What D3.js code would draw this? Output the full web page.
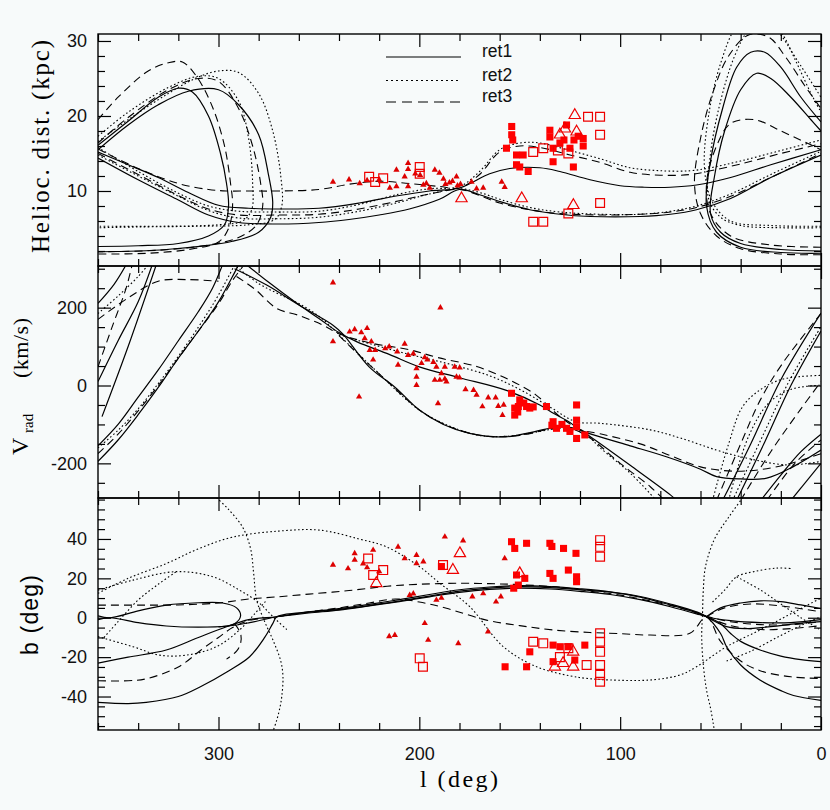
<!DOCTYPE html>
<html>
<head>
<meta charset="utf-8">
<script src="https://cdn.jsdelivr.net/npm/d3@7"></script>
<style>
  body { margin: 0; background: #f7fafa; }
  svg { display: block; }
  .tick text { font-family: "Liberation Sans", Arial, sans-serif; font-size: 18px; fill: #111; }
  .tick line { stroke: #000; stroke-width: 1.2; }
</style>
</head>
<body>
<div id="chart"></div>
<script>
// ---- axis values ----
const lMinor = d3.range(0, 361, 20);
const lMajor = [300, 200, 100, 0];

const distMinor = d3.range(2, 31, 2);
const distMajor = [10, 20, 30];
const vradMinor = d3.range(-250, 301, 50);
const vradMajor = [-200, 0, 200];
const bMinor = d3.range(-55, 61, 5);
const bMajor = [-40, -20, 0, 20, 40];

const models = ['ret1', 'ret2', 'ret3'];

// ---- orbit tracks, heliocentric distance (l, kpc) ----
const distRet1 = [
  [[360,16.1],[345,19.3],[330,22.5],[320,23.7],[313,23.2],[305,20],[299,15],[296,11],[295,8],[297,5.5],[305,4],[320,3],[340,2.7],[360,2.6]],
  [[360,15.5],[345,18.8],[330,21.5],[315,23.3],[300,23.5],[290,21.5],[280,17.5],[275,12],[273,8.5],[274,6.5],[280,4.5],[293,3.3],[326,2.2],[360,1.9]],
  [[360,15.2],[345,13.5],[330,11.8],[315,9.8],[300,8.1],[285,7.7],[270,7.6],[250,7.7],[230,8.4],[210,9.4],[195,10],[180,10.4],[165,12.3],[155,13],[140,13.1],[130,12.6],[115,11.5],[100,10.7],[88,10.5],[75,10.5],[62,10.8],[45,11.8],[25,13.5],[0,15.5]],
  [[360,14.4],[340,11.5],[320,8.8],[305,6.8],[290,5.8],[270,5.6],[250,5.8],[235,6.2],[220,6.8],[205,7.6],[190,8.9],[180,10.2],[170,9.5],[160,8.6],[145,7.5],[130,6.9],[115,6.6],[90,6.6],[75,6.9],[62,7.5],[45,9],[25,11.8],[0,14.8]],
  [[0,2.0],[20,2.2],[40,3.0],[50,4.5],[55,7],[53,12],[48,18],[40,23.5],[32,25.7],[25,25],[15,22.5],[5,19.5],[0,18]],
  [[0,1.7],[20,1.8],[40,2.5],[52,4.5],[57,8],[55,14],[49,21],[42,26.5],[35,28.5],[28,28.5],[20,26.5],[10,22.5],[0,19.2]]
];
const distRet2 = [
  [[360,16.6],[345,19.5],[325,23],[310,25.2],[300,26],[290,25.8],[280,23],[273,18],[269,12],[268.5,8],[272,6.2],[285,5.5],[310,5.3],[340,5.2],[360,5.1]],
  [[360,17.3],[345,20.5],[325,23.8],[310,25.3],[300,25],[290,22],[285,17],[283,11],[283.5,7.5],[288,6],[300,5.5],[330,5.3],[360,5.3]],
  [[360,15.8],[340,12.6],[320,9.7],[305,8],[290,7.3],[270,7.2],[250,7.3],[230,8.2],[210,9.6],[195,10.3],[180,10.6],[170,12.6],[160,15.5],[150,16.4],[140,16.4],[125,15.4],[110,14.3],[95,13.1],[80,12.7],[65,12.7],[55,13.1],[40,14],[20,15.4],[0,16.8]],
  [[360,14.8],[340,12],[320,9.3],[305,7.4],[290,6.4],[270,6.3],[250,6.5],[230,7.3],[210,8.5],[195,9.6],[180,10.3],[170,9.8],[160,8.9],[145,7.8],[130,7.2],[110,6.9],[90,6.9],[75,7.3],[62,8],[45,9.6],[25,12.2],[0,15.3]],
  [[0,5.1],[20,5.1],[40,5.4],[50,6.5],[56,9],[55,15],[50,22],[43,28],[36,31.5],[28,33],[20,31.2],[12,27],[5,23],[0,20.5]],
  [[0,5.3],[25,5.4],[45,6],[54,8.5],[58,13],[56,20],[50,27],[42,32],[32,34],[22,31.5],[12,27.5],[0,22.5]]
];
const distRet3 = [
  [[360,19.5],[350,22.5],[335,26],[325,27.1],[318,27.2],[311,25.3],[303,21.2],[297,16],[294,11],[293,8],[295,5],[300,3.2],[315,2.2],[335,1.7],[360,1.6]],
  [[360,16.4],[345,19.8],[325,23.5],[310,25],[300,24.6],[290,21],[283,16],[279,11],[278,8],[281,5.5],[290,3.8],[305,2.8],[330,2.1],[360,1.9]],
  [[360,15.6],[340,13],[320,11],[305,10.2],[296,10],[285,10],[270,10],[250,10.2],[235,10.9],[220,11.3],[205,11],[190,10.6],[180,10.4],[170,12.2],[160,15.2],[150,16],[140,15.8],[125,14.8],[110,13.8],[95,12.5],[80,12.1],[65,12.2],[55,12.7],[40,13.6],[20,15],[0,16.3]],
  [[360,15.0],[340,12.2],[320,9.4],[305,7.6],[290,6.8],[270,6.8],[250,6.9],[230,7.6],[210,8.7],[195,9.6],[180,10.2],[170,9.4],[160,8.4],[145,7.5],[130,7.0],[110,6.8],[90,6.9],[75,7.2],[62,7.8],[45,9.3],[25,11.8],[0,15.0]],
  [[0,1.5],[20,1.6],[40,2.3],[52,4],[60,7],[63,11],[60,17],[54,23],[46,28],[36,30.8],[26,30.5],[18,28],[8,24],[0,21]],
  [[0,2.5],[25,2.8],[45,4],[55,7],[57,11],[52,16],[45,19],[33,19.5],[20,18],[7,16.4],[0,15.5]]
];

// ---- orbit tracks, radial velocity (l, km/s) ----
const vradRet1 = [
  [[360,-195],[350,-140],[340,-75],[330,-5],[320,70],[310,140],[300,215],[292,290],[290,310]],
  [[360,-155],[350,-100],[340,-30],[330,40],[320,115],[310,190],[303,250],[298,310]],
  [[358,-80],[345,100],[331,310]],
  [[360,10],[350,115],[340,215],[333,310]],
  [[360,211],[352,260],[346,310]],
  [[286,310],[275,265],[262,215],[250,172],[240,136],[231,112],[215,80],[200,48],[180,20],[157,-12],[140,-50],[133,-72],[125,-95],[120,-114],[110,-132],[95,-155],[77,-183],[60,-215],[52,-234],[40,-240],[27,-238],[14,-209],[0,-166]],
  [[292,300],[276,258],[260,207],[243,155],[238,132],[225,48],[212,-5],[200,-63],[188,-100],[175,-123],[157,-132],[143,-119],[130,-106],[120,-114],[115,-131],[95,-205],[75,-281],[72,-295]],
  [[49,-295],[35,-150],[20,15],[0,186]],
  [[42,-295],[28,-145],[15,0],[0,140]],
  [[30,-295],[20,-230],[10,-170],[0,-125]],
  [[15,-295],[0,-200]]
];
const vradRet2 = [
  [[360,-160],[350,-115],[340,-60],[330,5],[320,75],[310,150],[302,215],[296,270],[292,310]],
  [[360,185],[350,230],[340,280],[335,310]],
  [[291,305],[280,262],[270,235],[258,205],[248,170],[240,133],[225,108],[205,80],[185,55],[165,25],[150,-10],[135,-55],[122,-93],[110,-97],[85,-114],[70,-135],[52,-166],[40,-183],[17,-204],[0,-195]],
  [[240,130],[222,40],[198,-70],[172,-126],[155,-130],[140,-118],[130,-110],[118,-122],[110,-160],[95,-225],[82,-295]],
  [[54,-295],[46,-150],[39,-54],[30,-10],[20,15],[10,23],[0,26]],
  [[46,-295],[36,-130],[26,-45],[15,-10],[0,1]],
  [[44,-295],[30,-140],[16,10],[0,151]]
];
const vradRet3 = [
  [[360,-175],[350,-125],[340,-65],[330,0],[320,70],[310,140],[300,210],[293,270],[288,305]],
  [[360,48],[353,150],[346,250],[343,310]],
  [[360,170],[345,225],[330,268],[315,272],[300,268]],
  [[291,280],[282,248],[271,198],[260,180],[248,155],[240,133],[225,110],[205,92],[191,72],[171,48],[155,14],[142,-24],[130,-80],[120,-113],[110,-124],[90,-150],[75,-180],[60,-209],[44,-220],[30,-216],[15,-200],[0,-175]],
  [[240,128],[220,30],[195,-80],[170,-128],[150,-128],[135,-112],[125,-110],[115,-135],[100,-200],[85,-260],[78,-295]],
  [[52,-295],[40,-150],[30,-35],[19,58],[0,185]],
  [[27,-295],[13,-200],[0,-140]],
  [[40,-295],[25,-170],[10,-60],[0,10]]
];

// ---- orbit tracks, galactic latitude (l, deg) ----
const bRet1 = [
  [[360,-1],[354,0],[340,-2.5],[326,-4.2],[310,-4.8],[295,-4.2],[284.5,-2.5],[271,0.5],[255,2.8],[243,3.9],[225,6.2],[210,8.5],[195,11],[180,13.5],[165,15],[150,15.8],[135,15.3],[120,14.2],[105,13],[90,10.5],[75,6.5],[62,2.5],[57,0.5],[45,-1.5],[30,-2.5],[15,-2.5],[0,-1]],
  [[360,1],[354,0],[340,3.5],[326,6.4],[310,7.6],[298,7.5],[291,5],[289,1],[292,-3],[300,-4.6]],
  [[360,-43],[345,-43.6],[336,-43],[320,-40],[309,-35],[295,-27],[284.5,-19.8],[277,-10],[273,-3],[271,0.5],[260,2.5],[243,4.2],[225,6.8],[210,9.2],[195,11.8],[180,14.2],[165,15.6],[150,16.3],[135,15.8],[120,14.7],[105,13.2],[90,10.8],[75,7],[62,3],[57,0.5],[50,-8],[47,-14.7],[40,-24],[30.4,-31.6],[20,-37],[13.7,-39.5],[0,-42]],
  [[360,-23],[345,-20],[326,-16.4],[310,-10],[296,-4.6],[285,-1],[271,0.5],[255,2.4],[240,3.9],[225,6],[210,8.2],[195,10.6],[180,12.9],[165,14.4],[150,15],[135,14.6],[120,13.4],[105,11.8],[90,9.2],[75,5.6],[62,2],[57,0.5],[50,-3],[45,-8],[40,-12],[30,-16.5],[20,-19.5],[10,-21.3],[0,-22.3]],
  [[57,0.5],[50,5],[40,7.5],[30,8.6],[20,8.2],[10,6.5],[0,4.7]],
  [[57,0.5],[47,-4.5],[38,-5.5],[25,-4.5],[12,-3],[0,-2]]
];
const bRet2 = [
  [[360,12.4],[345,20],[326,27.5],[310,35],[292.7,41],[270,44],[249.6,44.5],[230,40],[216.4,36],[200,26],[189.8,17.5],[174.9,5.6],[158.2,-14.7],[141.6,-24.9],[125,-29.5],[116.7,-30.8],[105,-31.6],[85,-31.6],[70,-29],[62,-24.9],[47,-14.7],[30.4,-6.2],[15,2],[0,10]],
  [[301,61],[295,55],[288,46],[284,35],[282.5,22.5],[281,9],[277,-2],[272.9,-11.3],[269,-22],[267.9,-30],[268.5,-40],[269.5,-46],[271,-52],[273,-58]],
  [[39,61],[46,51],[53,40],[57.5,26],[58.6,14],[59,2],[59.4,-10],[58.5,-25],[57,-36.7],[55,-46],[53.6,-54],[53,-58]],
  [[360,14],[342.6,19.1],[321,23.4],[302.8,20.8],[289.5,14],[279.5,7.3],[272.9,0.5],[266,-6]],
  [[360,-9.6],[342.6,-14.7],[329.3,-19],[316,-19],[301,-14.7],[289.5,-6.2],[282,2],[276,9]],
  [[357,-10],[350,-2],[340,9],[330,17],[321,23.4]],
  [[54,8],[48,14],[42,20.8],[33,23.5],[22,25.2],[15,25]],
  [[42,20.8],[30,14],[20,7],[10,0],[0,-6.4]],
  [[47,-22],[35,-17],[20,-9],[8,-3],[0,0.5]]
];
const bRet3 = [
  [[360,6.4],[340,6.4],[320,6.5],[300,7.5],[285,9.5],[272,10.5],[255,12],[235,13.8],[216,16],[200,17],[180,17.5],[165,17.3],[150,16.8],[130,15.5],[115,13.5],[100,11.5],[85,8.5],[70,5],[60,2],[56,0.5],[45,-2],[30,-3.5],[15,-3.5],[0,-2]],
  [[360,-32],[345,-32],[336,-31],[320,-25],[309,-16.6],[300,-10],[293,-5],[285,-1.5],[271,0.5],[255,3],[240,5],[225,7.5],[212,9.5],[200,8],[186.5,4.8],[166.6,-1.2],[150,-4],[133.4,-6.2],[115,-7.5],[101.7,-8],[85,-8.8],[65.3,-7.9],[57,0.5],[50,-12],[40,-22],[30,-27],[15,-30],[0,-30.8]],
  [[292,-3],[289,-8],[289,-13],[291,-17],[296,-21]],
  [[57,0.5],[45,-4],[30,-6],[15,-5.5],[0,-4]],
  [[57,0.5],[48,5],[35,7],[20,6],[0,3]]
];

// ---- observed stars ----
const distFilledTri = [[243,11.2],[235,11.5],[229.7,11.0],[211.4,12.8],[205.6,13.7],[205.6,12.9],[207.3,11.9],[211.4,10.6],[205.6,10.6],[214.7,10.4],[196.5,11.0],[192.3,12.8],[190,12.4],[194.8,10.4],[187,10.9],[185,11.1],[183.5,11.3],[181.5,11.9],[181,10.7],[179.5,10.9],[174,11.2],[171.5,10.3],[168.2,10.4],[159,11.2],[157.5,10.5],[199.6,12.1],[220,11.5],[226,11.4],[202,12.3],[188,11.6],[198,10.8]];
const distFilledSq = [[154,18.6],[154,17.5],[153.5,16.8],[156.6,15.7],[151.6,14.8],[151.6,13.5],[148.3,14.8],[145.8,12.6],[135,18.1],[135,17.2],[133.4,15.7],[133.4,13.9],[126.7,18.8],[130,16.4],[118.4,17.0],[118.4,16],[123.3,13.2],[125,15.7],[120.9,17.3],[150,13.2],[128,16.8],[123,16.8]];
const distOpenSq = [[225,11.9],[222,11.2],[218,11.7],[199.8,13.2],[199.8,12.3],[143.3,15.2],[138.3,15.7],[143.3,5.9],[138.3,5.9],[125.8,7.0],[110,8.4],[116,19.9],[110,19.9],[110,17.5],[125.8,15.0],[131,15.4]];
const distOpenTri = [[179,9.0],[149,9.0],[123.3,8.1],[122.6,20.1],[130,17.5],[127.5,18.3],[121.7,17.9]];

const vradFilledTri = [[243,264],[189.5,200],[243,113],[230,-29],[190.7,-46],[234.7,138],[232.2,144],[228.9,136],[226,147],[227.2,121],[223.9,113],[224.7,91],[222,91],[223,66],[207.3,107],[211,87],[205.6,78],[203,82],[210.6,53],[197.3,72],[198.9,57],[201.4,44],[201.4,22],[201.4,1],[191.5,48],[187.3,48],[182.4,48],[179.9,46],[192.3,14],[189.8,14],[187.3,17],[186.5,10],[189,31],[181.5,22],[180,20],[177,-10],[173,-12],[171.5,-24],[165.7,-31],[162,-31],[168.6,-54],[160.7,-53],[158,-50],[158.6,-76],[215,100],[217,95],[196,66],[193,60]];
const vradFilledSq = [[154.1,-20],[150,-37],[150.7,-54],[146.6,-54],[145,-58],[152.5,-76],[152.5,-58],[143.3,-55],[148,-45],[151,-68],[136.7,-54],[121.7,-50],[133.4,-93],[131.7,-110],[126.7,-110],[121.7,-106],[121.7,-136],[117.6,-127],[121.7,-89],[129,-100],[125,-118],[134,-102]];

const bFilledTri = [[243,26.8],[235.5,25],[232.2,32.7],[232.2,29.4],[228,27.5],[223,34.4],[210.6,36],[207.3,30.1],[201.4,31.8],[201.4,27.6],[198,28.5],[187.3,41.1],[178.2,39.1],[157.5,30.1],[204.8,11.5],[203,12.2],[191.5,9],[189,10],[173.6,10.7],[168.2,12.3],[161.8,8.1],[159.4,10.7],[197.3,-2.8],[212.2,-8.8],[215,-9.5],[195.6,-11.3],[180.6,-13],[165.8,-7.1],[226,25.5],[220,23.5]];
const bFilledSq = [[154.1,38.6],[152.5,35.2],[146.6,37.8],[135,37.8],[134,36.2],[128.2,35.2],[122,32.7],[151.6,21.7],[147.5,20],[150.7,16.6],[153,15],[135,22.5],[133.4,20],[125.8,24.2],[121.7,20.8],[121.7,18.3],[145,-17.3],[157.3,-24.9],[146.6,-24.9],[133.4,-13.9],[130,-14.7],[125.8,-14.7],[117.6,-13.9],[133.4,-22.3],[122.6,-21.5],[189,26]];
const bOpenSq = [[225.5,30.1],[218,24.2],[223,21.7],[188.2,26.8],[199.8,-20.6],[198.2,-24.9],[143.3,-12.2],[138.3,-13],[125.8,-15.5],[116.7,-24],[110,39.4],[110,36],[110,31],[110,-7.9],[110,-12.2],[110,-17.3],[110,-24],[110,-29],[110,-32.5],[130,-20]];
const bOpenTri = [[221.4,17.5],[179.8,32.7],[183.3,24.2],[132.5,-24.9],[128.4,-23.1],[123.4,-24.9],[123.4,-17.3],[150,22.5]];

// ---- layout ----
const W = 830, H = 810;
const plotLeft = 98, plotRight = 821;
const panelH = 232;

const dash = { ret1: null, ret2: '1.6,2.4', ret3: '8,5' };
const markStyle = {
  filledTri: { type: d3.symbolTriangle, size: 17, fill: '#dd0000', stroke: 'none' },
  filledSq:  { type: d3.symbolSquare,   size: 50, fill: '#ff0000', stroke: 'none' },
  openSq:    { type: d3.symbolSquare,   size: 78, fill: 'none',    stroke: '#ee0000' },
  openTri:   { type: d3.symbolTriangle, size: 55, fill: 'none',    stroke: '#ee0000' }
};

const panels = [
  { top: 34,  domain: [0, 30.93], minor: distMinor, major: distMajor,
    tracks: [distRet1, distRet2, distRet3],
    stars: [[distFilledTri, 'filledTri'], [distFilledSq, 'filledSq'], [distOpenSq, 'openSq'], [distOpenTri, 'openTri']] },
  { top: 266, domain: [-289, 307], minor: vradMinor, major: vradMajor,
    tracks: [vradRet1, vradRet2, vradRet3],
    stars: [[vradFilledTri, 'filledTri'], [vradFilledSq, 'filledSq']] },
  { top: 498, domain: [-57, 60.8], minor: bMinor, major: bMajor,
    tracks: [bRet1, bRet2, bRet3],
    stars: [[bFilledTri, 'filledTri'], [bFilledSq, 'filledSq'], [bOpenSq, 'openSq'], [bOpenTri, 'openTri']] }
];

const x = d3.scaleLinear().domain([360, 0]).range([plotLeft, plotRight]);

const svg = d3.select('#chart').append('svg')
  .attr('width', W).attr('height', H);
svg.append('rect').attr('width', W).attr('height', H).attr('fill', '#f7fafa');

const noDomain = g => g.select('.domain').remove();

panels.forEach((p, i) => {
  const bottom = p.top + panelH;
  const y = d3.scaleLinear().domain(p.domain).range([bottom, p.top]);

  svg.append('clipPath').attr('id', 'clip' + i)
    .append('rect')
    .attr('x', plotLeft).attr('y', p.top)
    .attr('width', plotRight - plotLeft).attr('height', panelH);

  const line = d3.line()
    .x(d => x(d[0])).y(d => y(d[1]))
    .curve(d3.curveCatmullRom.alpha(0.5));

  const gTracks = svg.append('g').attr('clip-path', `url(#clip${i})`);
  p.tracks.forEach((list, k) => {
    gTracks.selectAll(null)
      .data(list)
      .enter()
      .append('path')
      .attr('d', line)
      .attr('fill', 'none')
      .attr('stroke', '#000')
      .attr('stroke-width', models[k] === 'ret1' ? 1.2 : 1.1)
      .attr('stroke-dasharray', dash[models[k]]);
  });

  p.stars.forEach(([data, kind]) => {
    const s = markStyle[kind];
    svg.append('g').selectAll('path')
      .data(data)
      .enter()
      .append('path')
      .attr('d', d3.symbol().type(s.type).size(s.size))
      .attr('transform', d => 'translate(' + x(d[0]) + ',' + y(d[1]) + ')')
      .attr('fill', s.fill)
      .attr('stroke', s.stroke)
      .attr('stroke-width', 1.2);
  });

  // ticks on all four sides, pointing inward
  const xMinorVals = lMinor.filter(v => !lMajor.includes(v));
  svg.append('g').attr('transform', `translate(0,${bottom})`)
    .call(d3.axisBottom(x).tickValues(xMinorVals).tickSize(-7).tickFormat('')).call(noDomain);
  svg.append('g').attr('transform', `translate(0,${p.top})`)
    .call(d3.axisTop(x).tickValues(xMinorVals).tickSize(-7).tickFormat('')).call(noDomain);
  svg.append('g').attr('transform', `translate(0,${p.top})`)
    .call(d3.axisTop(x).tickValues(lMajor).tickSize(-13).tickFormat('')).call(noDomain);
  svg.append('g').attr('transform', `translate(0,${bottom})`)
    .call(d3.axisBottom(x).tickValues(lMajor).tickSize(-13).tickPadding(17)
      .tickFormat(i === 2 ? (d => String(d)) : ''))
    .call(noDomain);

  const yMinorVals = p.minor.filter(v => !p.major.includes(v));
  svg.append('g').attr('transform', `translate(${plotLeft},0)`)
    .call(d3.axisLeft(y).tickValues(yMinorVals).tickSize(-7).tickFormat('')).call(noDomain);
  svg.append('g').attr('transform', `translate(${plotLeft},0)`)
    .call(d3.axisLeft(y).tickValues(p.major).tickSize(-13).tickPadding(11).tickFormat(d => String(d)))
    .call(noDomain);
  svg.append('g').attr('transform', `translate(${plotRight},0)`)
    .call(d3.axisRight(y).tickValues(yMinorVals).tickSize(-7).tickFormat('')).call(noDomain);
  svg.append('g').attr('transform', `translate(${plotRight},0)`)
    .call(d3.axisRight(y).tickValues(p.major).tickSize(-13).tickFormat('')).call(noDomain);

  svg.append('rect')
    .attr('x', plotLeft).attr('y', p.top)
    .attr('width', plotRight - plotLeft).attr('height', panelH)
    .attr('fill', 'none').attr('stroke', '#000').attr('stroke-width', 1.4);
});

// ---- legend ----
const legendY = [57, 80.5, 102];
const legend = svg.append('g');
models.forEach((m, k) => {
  legend.append('line')
    .attr('x1', 386).attr('x2', 461)
    .attr('y1', legendY[k]).attr('y2', legendY[k])
    .attr('stroke', '#000').attr('stroke-width', 1.2)
    .attr('stroke-dasharray', m === 'ret2' ? '2,3' : m === 'ret3' ? '10,6' : null);
  legend.append('text')
    .attr('x', 482).attr('y', legendY[k])
    .attr('font-family', '"Liberation Sans", Arial, sans-serif')
    .attr('font-size', 17.5).attr('fill', '#111')
    .text(m);
});

// ---- axis titles ----
const serif = '"Liberation Serif", "Times New Roman", serif';
const sans = '"Liberation Sans", Arial, sans-serif';

svg.append('text')
  .attr('transform', 'translate(49,146.5) rotate(-90)')
  .attr('text-anchor', 'middle')
  .attr('font-family', serif).attr('font-size', 25)
  .attr('textLength', 213).attr('lengthAdjust', 'spacing')
  .text('Helioc. dist. (kpc)');

svg.append('text')
  .attr('transform', 'translate(28,455) rotate(-90)')
  .attr('font-family', serif).attr('font-size', 24)
  .text('V');
svg.append('text')
  .attr('transform', 'translate(33,433) rotate(-90)')
  .attr('font-family', serif).attr('font-size', 15)
  .text('rad');
svg.append('text')
  .attr('transform', 'translate(28,378) rotate(-90)')
  .attr('font-family', serif).attr('font-size', 22)
  .attr('textLength', 60).attr('lengthAdjust', 'spacing')
  .text('(km/s)');

svg.append('text')
  .attr('transform', 'translate(38,615) rotate(-90)')
  .attr('text-anchor', 'middle')
  .attr('font-family', sans).attr('font-size', 23)
  .attr('textLength', 80).attr('lengthAdjust', 'spacing')
  .text('b (deg)');

svg.append('text')
  .attr('x', 459).attr('y', 787)
  .attr('text-anchor', 'middle')
  .attr('font-family', serif).attr('font-size', 24)
  .attr('textLength', 78).attr('lengthAdjust', 'spacing')
  .text('l (deg)');
</script>
</body>
</html>
